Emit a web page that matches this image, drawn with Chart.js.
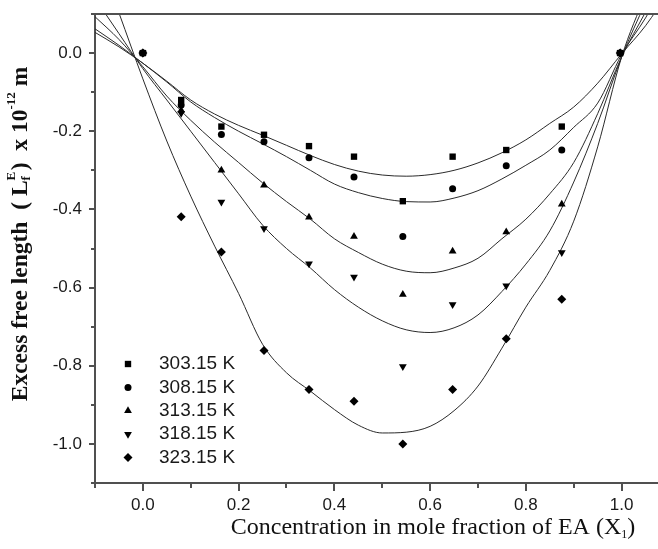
<!DOCTYPE html>
<html>
<head>
<meta charset="utf-8">
<script src="https://cdn.jsdelivr.net/npm/chart.js@4.4.0/dist/chart.umd.min.js"></script>
<style>
  html, body { margin: 0; padding: 0; background: #fff; }
  canvas { display: block; }
</style>
</head>
<body>
<canvas id="chart" width="658" height="549"></canvas>
<script>
// mole fraction of EA (X1) for the measured points
var moleFraction = [0, 0.08, 0.164, 0.253, 0.347, 0.441, 0.543, 0.647, 0.759, 0.875, 0.997];

var temperatures = ['303.15 K', '308.15 K', '313.15 K', '318.15 K', '323.15 K'];

// excess free length, x 10^-12 m
var lf303 = [0, -0.12, -0.188, -0.209, -0.238, -0.265, -0.379, -0.265, -0.248, -0.188, 0];
var lf308 = [0, -0.133, -0.208, -0.227, -0.268, -0.317, -0.469, -0.347, -0.288, -0.248, 0];
var lf313 = [0, -0.146, -0.30, -0.338, -0.42, -0.469, -0.618, -0.507, -0.458, -0.387, 0];
var lf318 = [0, -0.154, -0.381, -0.449, -0.539, -0.573, -0.802, -0.643, -0.595, -0.51, 0];
var lf323 = [0, -0.419, -0.509, -0.761, -0.861, -0.891, -1.0, -0.861, -0.731, -0.63, 0];

// fitted curves
var fitX = [-0.1, -0.05, 0, 0.05, 0.1, 0.15, 0.2, 0.25, 0.3, 0.35, 0.4, 0.45, 0.5,
            0.55, 0.6, 0.65, 0.7, 0.75, 0.8, 0.85, 0.9, 0.95, 1.0, 1.05, 1.1];
var fit303 = [0.053, 0.016, -0.026, -0.072, -0.12, -0.156, -0.185, -0.21, -0.236, -0.262, -0.285, -0.302, -0.312,
              -0.315, -0.311, -0.3, -0.281, -0.255, -0.222, -0.18, -0.138, -0.077, -0.002, 0.07, 0.16];
var fit308 = [0.062, 0.02, -0.026, -0.074, -0.125, -0.165, -0.2, -0.232, -0.265, -0.3, -0.335, -0.357, -0.372,
              -0.38, -0.381, -0.371, -0.352, -0.322, -0.287, -0.248, -0.19, -0.128, -0.004, 0.09, 0.2];
var fit313 = [0.093, 0.035, -0.035, -0.11, -0.172, -0.228, -0.28, -0.332, -0.38, -0.425, -0.475, -0.51, -0.54,
              -0.558, -0.562, -0.55, -0.525, -0.475, -0.425, -0.36, -0.28, -0.155, -0.01, 0.105, 0.22];
var fit318 = [0.14, 0.05, -0.04, -0.12, -0.2, -0.28, -0.36, -0.44, -0.5, -0.55, -0.605, -0.65, -0.685,
              -0.708, -0.715, -0.703, -0.67, -0.61, -0.54, -0.455, -0.33, -0.18, -0.01, 0.13, 0.27];
var fit323 = [0.27, 0.103, -0.066, -0.225, -0.366, -0.494, -0.615, -0.745, -0.818, -0.865, -0.912, -0.952, -0.972,
              -0.97, -0.955, -0.915, -0.852, -0.755, -0.65, -0.556, -0.43, -0.24, -0.01, 0.15, 0.3];

var xLabelled = [0.0, 0.2, 0.4, 0.6, 0.8, 1.0];
var yLabelled = [0.0, -0.2, -0.4, -0.6, -0.8, -1.0];

function pts(xs, ys) {
    return xs.map(function (x, i) { return { x: x, y: ys[i] }; });
}

function labelIf(list) {
    return function (value) {
        for (var i = 0; i < list.length; i++) {
            if (Math.abs(list[i] - value) < 1e-6) return value.toFixed(1);
        }
        return '';
    };
}

var markers = [
    { pointStyle: 'rect', radius: 4.5, rotation: 0 },
    { pointStyle: 'circle', radius: 3.5, rotation: 0 },
    { pointStyle: 'triangle', radius: 4.5, rotation: 0 },
    { pointStyle: 'triangle', radius: 4.5, rotation: 180 },
    { pointStyle: 'rectRot', radius: 4.5, rotation: 0 }
];

var pointSets = [lf303, lf308, lf313, lf318, lf323];
var fitSets = [fit303, fit308, fit313, fit318, fit323];

var datasets = [];
pointSets.forEach(function (ys, i) {
    datasets.push({
        label: temperatures[i],
        data: pts(moleFraction, ys),
        showLine: false,
        pointStyle: markers[i].pointStyle,
        pointRadius: markers[i].radius,
        pointRotation: markers[i].rotation,
        pointBackgroundColor: '#000',
        pointBorderWidth: 0,
        borderColor: '#000'
    });
});
fitSets.forEach(function (ys) {
    datasets.push({
        label: '',
        data: pts(fitX, ys),
        showLine: true,
        pointRadius: 0,
        borderColor: '#2a2a2a',
        borderWidth: 1,
        cubicInterpolationMode: 'monotone',
        fill: false
    });
});

// text with sub/superscripts: parts = [{t, sub|sup, stack}]
function richWidth(ctx, parts, font, small) {
    var w = 0;
    parts.forEach(function (p) {
        ctx.font = p.sub || p.sup ? small : font;
        if (!p.stack) w += ctx.measureText(p.t).width;
    });
    return w;
}
function drawRich(ctx, parts, cx, cy, font, small, subDy, supDy) {
    var x = cx - richWidth(ctx, parts, font, small) / 2;
    ctx.textBaseline = 'middle';
    ctx.textAlign = 'left';
    var lastX = x;
    parts.forEach(function (p) {
        ctx.font = p.sub || p.sup ? small : font;
        var dy = p.sub ? subDy : (p.sup ? supDy : 0);
        var px = p.stack ? lastX : x;
        ctx.fillText(p.t, px, cy + dy);
        if (!p.stack) { lastX = x; x += ctx.measureText(p.t).width; }
    });
}

function noPad(scale) {
    scale.paddingLeft = 0;
    scale.paddingRight = 0;
    scale.paddingTop = 0;
    scale.paddingBottom = 0;
}

var decor = {
    id: 'decor',
    afterDraw: function (chart) {
        var ctx = chart.ctx, a = chart.chartArea;
        var xs = chart.scales.x, ys = chart.scales.y;
        ctx.save();
        ctx.strokeStyle = '#505050';
        ctx.lineWidth = 2;
        ctx.beginPath();
        ctx.moveTo(a.left, a.top);
        ctx.lineTo(chart.width, a.top);
        ctx.stroke();

        xs.ticks.forEach(function (t) {
            var k = Math.round(t.value * 10);
            if (Math.abs(t.value * 10 - k) > 1e-6) return;
            var px = Math.round(xs.getPixelForValue(t.value));
            var len = k % 2 === 0 ? 8 : 5;
            ctx.beginPath();
            ctx.moveTo(px, a.bottom);
            ctx.lineTo(px, a.bottom + len);
            ctx.stroke();
        });
        ys.ticks.forEach(function (t) {
            var k = Math.round(t.value * 10);
            if (Math.abs(t.value * 10 - k) > 1e-6) return;
            var py = Math.round(ys.getPixelForValue(t.value));
            var len = k % 2 === 0 ? 6 : 4;
            ctx.beginPath();
            ctx.moveTo(a.left, py);
            ctx.lineTo(a.left - len, py);
            ctx.stroke();
        });

        // legend
        ctx.fillStyle = '#000';
        for (var i = 0; i < temperatures.length; i++) {
            var ly = 364 + i * 23.4;
            Chart.helpers.drawPoint(ctx, {
                pointStyle: markers[i].pointStyle,
                radius: markers[i].radius,
                rotation: markers[i].rotation,
                borderWidth: 0
            }, 128, ly);
            ctx.fillStyle = '#1a1a1a';
            ctx.font = '19px "Liberation Sans", Arial, sans-serif';
            ctx.textAlign = 'left';
            ctx.textBaseline = 'middle';
            ctx.fillText(temperatures[i], 159, ly);
            ctx.fillStyle = '#000';
        }

        // x title
        ctx.fillStyle = '#111';
        drawRich(ctx, [
            { t: 'Concentration in mole fraction of EA (X' },
            { t: '1', sub: true },
            { t: ')' }
        ], 433, 528, '24px "Liberation Serif", "Times New Roman", serif',
           '12px "Liberation Serif", "Times New Roman", serif', 7, -8);

        // y title
        ctx.translate(21, 234);
        ctx.rotate(-Math.PI / 2);
        drawRich(ctx, [
            { t: 'Excess free length  ( L' },
            { t: 'f', sub: true },
            { t: 'E', sup: true, stack: true },
            { t: ' )  x 10' },
            { t: '-12', sup: true },
            { t: ' m' }
        ], 0, 0, 'bold 23.5px "Liberation Serif", "Times New Roman", serif',
           'bold 13px "Liberation Serif", "Times New Roman", serif', 6, -9);
        ctx.restore();
    }
};

new Chart(document.getElementById('chart').getContext('2d'), {
    type: 'scatter',
    data: { datasets: datasets },
    options: {
        responsive: false,
        animation: false,
        layout: { autoPadding: false, padding: { top: 14, right: 0, left: 0, bottom: 0 } },
        plugins: {
            legend: { display: false },
            tooltip: { enabled: false }
        },
        scales: {
            x: {
                type: 'linear',
                min: -0.1,
                max: 1.076,
                grid: { display: false, drawTicks: false },
                border: { display: true, color: '#505050', width: 2 },
                ticks: {
                    stepSize: 0.1,
                    includeBounds: false,
                    autoSkip: false,
                    maxRotation: 0,
                    padding: 12,
                    color: '#1a1a1a',
                    font: { family: '"Liberation Sans", Arial, sans-serif', size: 17 },
                    callback: labelIf(xLabelled)
                },
                afterFit: function (scale) { scale.height = 66; noPad(scale); }
            },
            y: {
                type: 'linear',
                min: -1.1,
                max: 0.1,
                grid: { display: false, drawTicks: false },
                border: { display: true, color: '#505050', width: 2 },
                ticks: {
                    stepSize: 0.1,
                    includeBounds: false,
                    autoSkip: false,
                    padding: 13,
                    color: '#1a1a1a',
                    font: { family: '"Liberation Sans", Arial, sans-serif', size: 17 },
                    callback: labelIf(yLabelled)
                },
                afterFit: function (scale) { scale.width = 95; noPad(scale); }
            }
        }
    },
    plugins: [decor]
});
</script>
</body>
</html>
